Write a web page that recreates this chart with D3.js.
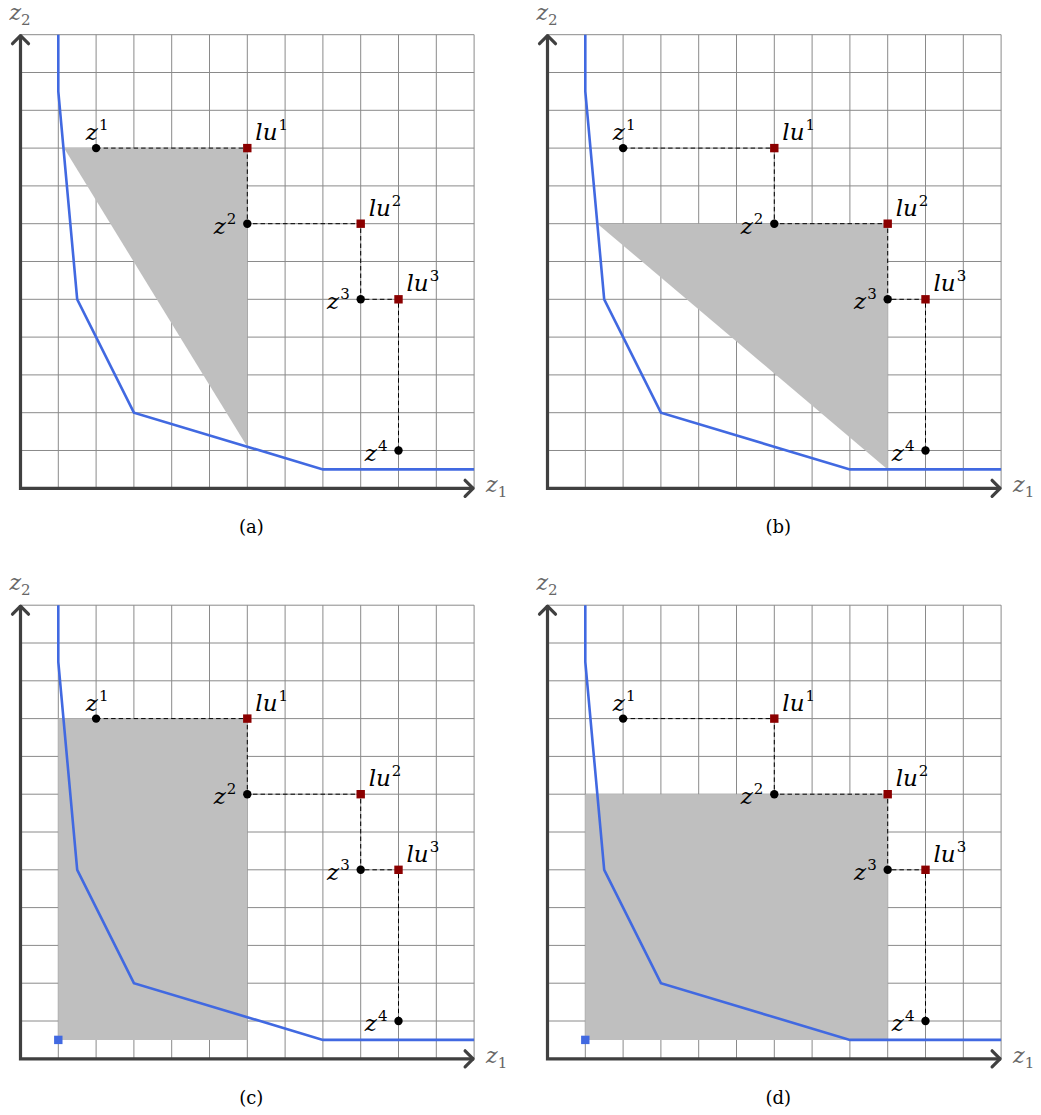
<!DOCTYPE html>
<html>
<head>
<meta charset="utf-8">
<script src="https://d3js.org/d3.v7.min.js"></script>
<style>
  body { margin: 0; background: #fff; }
</style>
</head>
<body>
<div id="chart"></div>
<script>
// grid is 12 x 12 units in every panel
var gridMax = 12;

// lower frontier (blue line), same in all panels
var frontier = [[1, 12], [1, 10.5], [1.5, 5], [3, 2], [8, 0.5], [12, 0.5]];

// points z^k and local upper bounds lu^k
var zPoints = [[2, 9], [6, 7], [9, 5], [10, 1]];
var luPoints = [[6, 9], [9, 7], [10, 5]];
// staircase path z1 -> lu1 -> z2 -> ... -> z4
var stairs = [[2, 9], [6, 9], [6, 7], [9, 7], [9, 5], [10, 5], [10, 1]];

// shaded region of each panel
var shadeA = [[1.15, 9], [6, 9], [6, 1.1]];
var shadeB = [[1.32, 7], [9, 7], [9, 0.5]];
var shadeC = [[1, 0.5], [1, 9], [6, 9], [6, 0.5]];
var shadeD = [[1, 0.5], [1, 7], [9, 7], [9, 0.5]];
var idealPoint = [1, 0.5];

var captions = ["(a)", "(b)", "(c)", "(d)"];

var panels = [
  {ox: 20.5, oy: 488.3, shade: shadeA, ideal: false, cap: captions[0]},
  {ox: 547.5, oy: 488.3, shade: shadeB, ideal: false, cap: captions[1]},
  {ox: 20.5, oy: 1058.8, shade: shadeC, ideal: true, cap: captions[2]},
  {ox: 547.5, oy: 1058.8, shade: shadeD, ideal: true, cap: captions[3]}
];

var serif = "DejaVu Serif";
var unit = 37.8;
var x = d3.scaleLinear().domain([0, gridMax]).range([0, gridMax * unit]);
var y = d3.scaleLinear().domain([0, gridMax]).range([0, -gridMax * unit]);

var svg = d3.select('#chart')
  .append('svg')
  .attr('width', 1041)
  .attr('height', 1115);

var line = d3.line()
  .x(function(d) { return x(d[0]); })
  .y(function(d) { return y(d[1]); });

function label(g, base, sup, px, py, anchor) {
  var t = g.append('text')
    .attr('x', px).attr('y', py)
    .attr('text-anchor', anchor)
    .style('font-family', serif)
    .style('font-style', 'italic')
    .style('font-size', '23px')
    .attr('fill', '#000');
  t.append('tspan').text(base);
  t.append('tspan').style('font-size', '15px').style('font-style', 'normal')
    .attr('dx', '1').attr('dy', '-10').text(sup);
}

panels.forEach(function(p) {
  var g = svg.append('g').attr('transform', 'translate(' + p.ox + ',' + p.oy + ')');

  // grid
  var ticks = d3.range(1, gridMax + 1);
  g.selectAll('.vg').data(ticks).enter().append('line')
    .attr('x1', function(d) { return x(d); }).attr('x2', function(d) { return x(d); })
    .attr('y1', y(0)).attr('y2', y(gridMax))
    .attr('stroke', '#8a8a8a').attr('stroke-width', 1);
  g.selectAll('.hg').data(ticks).enter().append('line')
    .attr('y1', function(d) { return y(d); }).attr('y2', function(d) { return y(d); })
    .attr('x1', x(0)).attr('x2', x(gridMax))
    .attr('stroke', '#8a8a8a').attr('stroke-width', 1);

  // shaded region
  g.append('path')
    .attr('d', line(p.shade) + 'Z')
    .attr('fill', '#bfbfbf');

  // frontier
  g.append('path')
    .attr('d', line(frontier))
    .attr('fill', 'none')
    .attr('stroke', '#4169e1')
    .attr('stroke-width', 2.6);

  // dashed staircase
  g.append('path')
    .attr('d', line(stairs))
    .attr('fill', 'none')
    .attr('stroke', '#000')
    .attr('stroke-width', 1)
    .attr('stroke-dasharray', '4.5,3');

  // axes with arrow heads
  var ax = '#404040';
  g.append('path')
    .attr('d', 'M' + x(0) + ',' + y(gridMax) + 'L' + x(0) + ',' + y(0) + 'L' + x(gridMax) + ',' + y(0))
    .attr('fill', 'none').attr('stroke', ax).attr('stroke-width', 3.2)
    .attr('stroke-linejoin', 'miter');
  g.append('path')
    .attr('d', 'M' + (x(0) - 8) + ',' + (y(gridMax) + 9) + 'L' + x(0) + ',' + (y(gridMax) + 1) + 'L' + (x(0) + 8) + ',' + (y(gridMax) + 9))
    .attr('fill', 'none').attr('stroke', ax).attr('stroke-width', 3.2)
    .attr('stroke-linecap', 'round').attr('stroke-linejoin', 'round');
  g.append('path')
    .attr('d', 'M' + (x(gridMax) - 9) + ',' + (y(0) - 8) + 'L' + (x(gridMax) - 1) + ',' + y(0) + 'L' + (x(gridMax) - 9) + ',' + (y(0) + 8))
    .attr('fill', 'none').attr('stroke', ax).attr('stroke-width', 3.2)
    .attr('stroke-linecap', 'round').attr('stroke-linejoin', 'round');

  // axis labels
  var xl = g.append('text').attr('x', x(gridMax) + 12).attr('y', y(0) + 4)
    .style('font-family', serif)
    .style('font-style', 'italic').style('font-size', '22px').attr('fill', '#666');
  xl.append('tspan').text('z');
  xl.append('tspan').style('font-size', '15px').style('font-style', 'normal').attr('dy', '5').text('1');
  var yl = g.append('text').attr('x', x(0) - 11).attr('y', y(gridMax) - 15)
    .style('font-family', serif)
    .style('font-style', 'italic').style('font-size', '22px').attr('fill', '#666');
  yl.append('tspan').text('z');
  yl.append('tspan').style('font-size', '15px').style('font-style', 'normal').attr('dy', '5').text('2');

  // ideal point
  if (p.ideal) {
    g.append('rect')
      .attr('x', x(idealPoint[0]) - 4.2).attr('y', y(idealPoint[1]) - 4.2)
      .attr('width', 8.4).attr('height', 8.4)
      .attr('fill', '#4169e1');
  }

  // points
  g.selectAll('.z').data(zPoints).enter().append('circle')
    .attr('cx', function(d) { return x(d[0]); })
    .attr('cy', function(d) { return y(d[1]); })
    .attr('r', 4.2).attr('fill', '#000');
  g.selectAll('.lu').data(luPoints).enter().append('rect')
    .attr('x', function(d) { return x(d[0]) - 4.2; })
    .attr('y', function(d) { return y(d[1]) - 4.2; })
    .attr('width', 8.4).attr('height', 8.4)
    .attr('fill', '#8b0000');

  // point labels
  zPoints.forEach(function(d, i) {
    if (i === 0) label(g, 'z', String(i + 1), x(d[0]) + 1, y(d[1]) - 8, 'middle');
    else label(g, 'z', String(i + 1), x(d[0]) - 11, y(d[1]) + 10, 'end');
  });
  luPoints.forEach(function(d, i) {
    label(g, 'lu', String(i + 1), x(d[0]) + 8, y(d[1]) - 8, 'start');
  });

  // caption
  g.append('text')
    .attr('x', x(gridMax / 2) + 4).attr('y', y(0) + 45)
    .attr('text-anchor', 'middle')
    .style('font-family', serif)
    .style('font-size', '18px').attr('fill', '#000')
    .text(p.cap);
});
</script>
</body>
</html>
